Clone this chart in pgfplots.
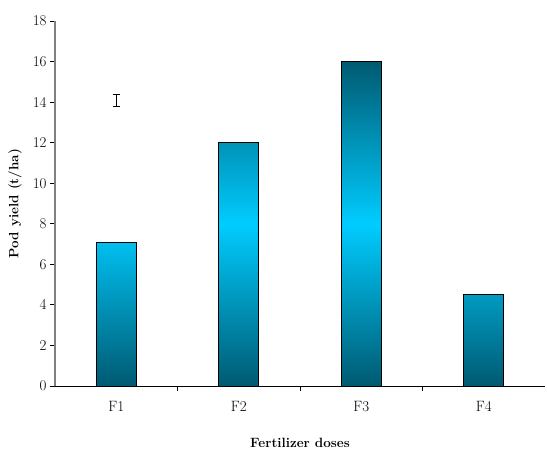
\documentclass[border=0pt]{standalone}
\usepackage{fontspec}
\usepackage{pgfplots}
\pgfplotsset{compat=1.18}
\usetikzlibrary{calc}
\definecolor{tealdark}{HTML}{005A72}
\definecolor{cyanlight}{HTML}{00CCFF}
\begin{document}
\begin{tikzpicture}
\begin{axis}[
  scale only axis,
  width=490bp, height=365bp,
  xmin=-0.5, xmax=3.5,
  ymin=0, ymax=18,
  ytick={0,2,...,18},
  xtick={0.5,1.5,2.5},
  xticklabels={},
  extra x ticks={0,1,2,3},
  extra x tick labels={F1,F2,F3,F4},
  extra x tick style={major tick length=0pt, xticklabel style={yshift=-12bp}},
  axis x line=bottom, axis y line=left,
  axis line style={-},
  x axis line style={black, line width=0.9pt},
  y axis line style={gray, line width=1.2pt},
  tick align=outside,
  tick style={black, line width=0.8pt},
  major tick length=5bp,
  tick label style={font=\fontsize{15}{17}\selectfont},
  /pgf/number format/assume math mode=true,
  ylabel={\textbf{Pod yield (t/ha)}},
  xlabel={\textbf{Fertilizer doses}},
  label style={font=\fontsize{13.5}{16}\selectfont},
  xlabel style={at={(axis description cs:0.5,0)}, anchor=center, yshift=-57bp},
  ylabel style={at={(axis description cs:0,0.5)}, anchor=center, yshift=40bp},
]
\addplot[ybar, bar width=40bp, draw=black, line width=0.7pt,
  top color=tealdark, bottom color=tealdark, middle color=cyanlight]
  coordinates {(0,7.1) (1,12.0) (2,16.0) (3,4.5)};
\addplot[draw=none, mark=none, forget plot,
  error bars/.cd, y dir=both, y explicit, error mark=-,
  error bar style={draw=black, line width=1pt},
  error mark options={rotate=90, draw=black, line width=1pt, mark size=3.5bp}]
  coordinates {(0,14.1) +- (0,0.3)};
\end{axis}
\path[use as bounding box] ($(current axis.south west)+(-55bp,-64bp)$) rectangle ($(current axis.north east)+(2bp,21bp)$);
\end{tikzpicture}
\end{document}
